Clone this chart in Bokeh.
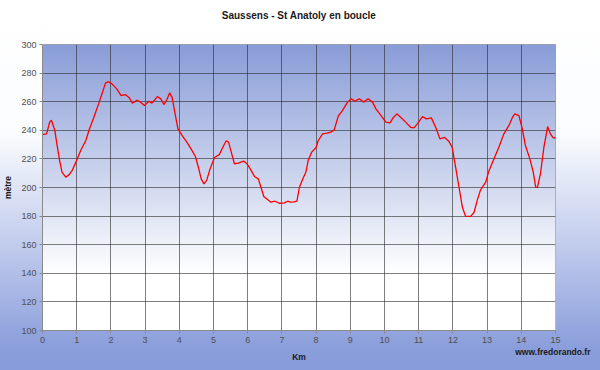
import numpy as np
from bokeh.plotting import figure
from bokeh.models import Title, FixedTicker, Range1d, LinearAxis
from bokeh.embed import file_html
from bokeh.resources import INLINE

TITLE = "Saussens - St Anatoly en boucle"
X_LABEL = "Km"
Y_LABEL = "mètre"
WATERMARK = "www.fredorando.fr"

X_TICKS = list(range(0, 16))
Y_TICKS = [100, 120, 140, 160, 180, 200, 220, 240, 260, 280, 300]

KM = [0.00, 0.12, 0.21, 0.26, 0.36, 0.42, 0.50, 0.57, 0.68, 0.78, 0.87, 1.00,
      1.12, 1.27, 1.36, 1.50, 1.64, 1.74, 1.84, 1.93, 2.03, 2.17, 2.30, 2.42,
      2.53, 2.63, 2.76, 2.85, 2.98, 3.11, 3.20, 3.36, 3.46, 3.55, 3.63, 3.72,
      3.79, 3.86, 3.96, 4.08, 4.22, 4.37, 4.47, 4.56, 4.64, 4.72, 4.80, 4.90,
      5.03, 5.17, 5.27, 5.37, 5.44, 5.52, 5.61, 5.73, 5.88, 5.98, 6.10, 6.20,
      6.31, 6.39, 6.47, 6.59, 6.68, 6.80, 6.92, 7.07, 7.17, 7.25, 7.35, 7.44,
      7.51, 7.61, 7.70, 7.77, 7.87, 8.00, 8.06, 8.19, 8.32, 8.43, 8.53, 8.65,
      8.77, 8.92, 9.03, 9.13, 9.26, 9.39, 9.52, 9.65, 9.75, 9.90, 10.04, 10.16,
      10.26, 10.36, 10.48, 10.62, 10.77, 10.86, 10.96, 11.11, 11.23, 11.37,
      11.50, 11.62, 11.76, 11.88, 11.98, 12.08, 12.18, 12.28, 12.37, 12.52,
      12.62, 12.71, 12.81, 12.96, 13.05, 13.20, 13.34, 13.49, 13.64, 13.74,
      13.81, 13.93, 14.03, 14.12, 14.25, 14.35, 14.42, 14.47, 14.56, 14.66,
      14.77, 14.85, 14.93, 15.00]

ELEV = [237.0, 237.5, 245.7, 247.0, 240.0, 230.5, 219.0, 210.7, 207.2, 209.0, 212.0, 219.0,
        226.0, 233.0, 240.0, 249.0, 258.5, 265.5, 273.0, 274.0, 272.5, 269.0, 264.3, 265.0,
        263.0, 259.0, 261.0, 260.0, 257.3, 260.3, 259.0, 263.6, 262.0, 258.0, 261.0, 266.2,
        263.0, 253.8, 241.0, 236.4, 231.7, 226.0, 221.7, 214.0, 206.0, 202.5, 205.0, 213.0,
        221.0, 223.0, 228.0, 232.7, 231.7, 224.7, 216.6, 217.0, 218.5, 216.6, 212.0, 207.7,
        206.0, 200.0, 193.7, 191.4, 189.7, 190.4, 189.0, 189.3, 190.4, 189.7, 190.0, 190.4,
        200.0, 206.0, 210.6, 219.0, 224.7, 228.0, 232.7, 237.5, 238.0, 238.7, 240.3, 250.0,
        253.8, 259.7, 262.0, 260.3, 262.0, 259.7, 262.0, 259.7, 255.0, 250.3, 245.7, 245.2,
        249.0, 251.5, 249.0, 245.7, 242.0, 241.7, 244.5, 249.6, 248.0, 248.7,
        242.0, 234.0, 235.0, 232.4, 228.0, 214.0, 200.0, 186.0, 179.8, 179.8,
        182.7, 191.0, 198.4, 203.7, 211.4, 220.0, 228.0, 237.5, 243.4, 249.0,
        251.5, 250.3, 241.0, 229.4, 220.0, 210.7, 200.2, 200.0, 209.6, 228.0,
        242.6, 237.5, 234.8, 234.8]

p = figure(width=600, height=370,
           x_range=Range1d(X_TICKS[0], X_TICKS[-1]),
           y_range=Range1d(Y_TICKS[0], Y_TICKS[-1]),
           output_backend="svg", toolbar_location=None,
           min_border_left=41, min_border_right=45,
           min_border_top=44, min_border_bottom=40)

main_x = p.xaxis[0]
main_y = p.yaxis[0]

# outer background gradient (white at top, blue at bottom)
p.border_fill_alpha = 0
p.background_fill_alpha = 0
p.styles = {"background": "linear-gradient(to bottom, #ffffff 0%, #fbfcfe 36%, #c9d2ef 62%, #8a9edb 94%, #889cdb 100%)"}

# plot-area gradient (blue at top to white)
H = 286
frac = np.linspace(0, 1, H)  # 0 bottom, 1 top
t = np.clip((frac - 0.2) / 0.8, 0, 1)
top = np.array([138, 157, 216])
col = (255 - t[:, None] * (255 - top[None, :])).astype(np.uint32)
img = np.empty((H, 2), dtype=np.uint32)
view = img.view(dtype=np.uint8).reshape((H, 2, 4))
for j in range(2):
    view[:, j, 0] = col[:, 0]
    view[:, j, 1] = col[:, 1]
    view[:, j, 2] = col[:, 2]
    view[:, j, 3] = 255
bg = p.image_rgba(image=[img], x=X_TICKS[0], y=Y_TICKS[0],
                  dw=X_TICKS[-1] - X_TICKS[0], dh=Y_TICKS[-1] - Y_TICKS[0])
bg.level = "image"

p.line(KM, ELEV, line_color="#ff0000", line_width=1.3)

# grid
for g in (p.xgrid, p.ygrid):
    g.grid_line_color = "#2a2a2a"
    g.grid_line_alpha = 0.6
    g.grid_line_width = 1
p.xgrid.ticker = FixedTicker(ticks=X_TICKS)
p.ygrid.ticker = FixedTicker(ticks=Y_TICKS)

p.outline_line_color = "#a0a0a0"
p.outline_line_width = 1

for ax, ticks, lab in ((main_x, X_TICKS, X_LABEL), (main_y, Y_TICKS, Y_LABEL)):
    ax.ticker = FixedTicker(ticks=ticks)
    ax.axis_label = lab
    ax.axis_line_color = "#8a8a8a"
    ax.major_tick_line_color = "#8a8a8a"
    ax.major_tick_out = 3
    ax.major_tick_in = 0
    ax.minor_tick_line_color = None
    ax.major_label_text_font = "Liberation Sans"
    ax.major_label_text_font_size = "9px"
    ax.major_label_text_color = "#505050"
    ax.major_label_standoff = 3
    ax.axis_label_text_font = "Liberation Sans"
    ax.axis_label_text_font_size = "8.5px"
    ax.axis_label_text_font_style = "bold"
    ax.axis_label_text_color = "#1a1a1a"

main_x.axis_label_standoff = 6
main_y.axis_label_standoff = 5

# near-invisible axis above the frame, used only as a spacer for the title
spacer = LinearAxis(ticker=FixedTicker(ticks=[X_TICKS[0]]),
                    major_tick_out=24, major_tick_in=0,
                    minor_tick_out=0, minor_tick_in=0,
                    major_tick_line_color="#fdfdfe", major_tick_line_width=1,
                    minor_tick_line_color=None, axis_line_color=None,
                    major_label_overrides={X_TICKS[0]: ""},
                    major_label_text_font_size="0px", major_label_standoff=0)
p.add_layout(spacer, "above")

main_title = Title(text=TITLE, align="center", vertical_align="bottom", standoff=0,
                   text_font="Liberation Sans", text_font_size="10px",
                   text_font_style="bold", text_color="#1a1a1a")
p.add_layout(main_title, "above")

# watermark as a right-aligned title below the plot
wm = Title(text=WATERMARK, align="right", offset=-35, standoff=-36,
           vertical_align="top", text_font="Liberation Sans",
           text_font_size="8.5px", text_font_style="bold", text_color="#1a1a1a")
p.add_layout(wm, "below")

open("out.html", "w").write(file_html(p, INLINE))
